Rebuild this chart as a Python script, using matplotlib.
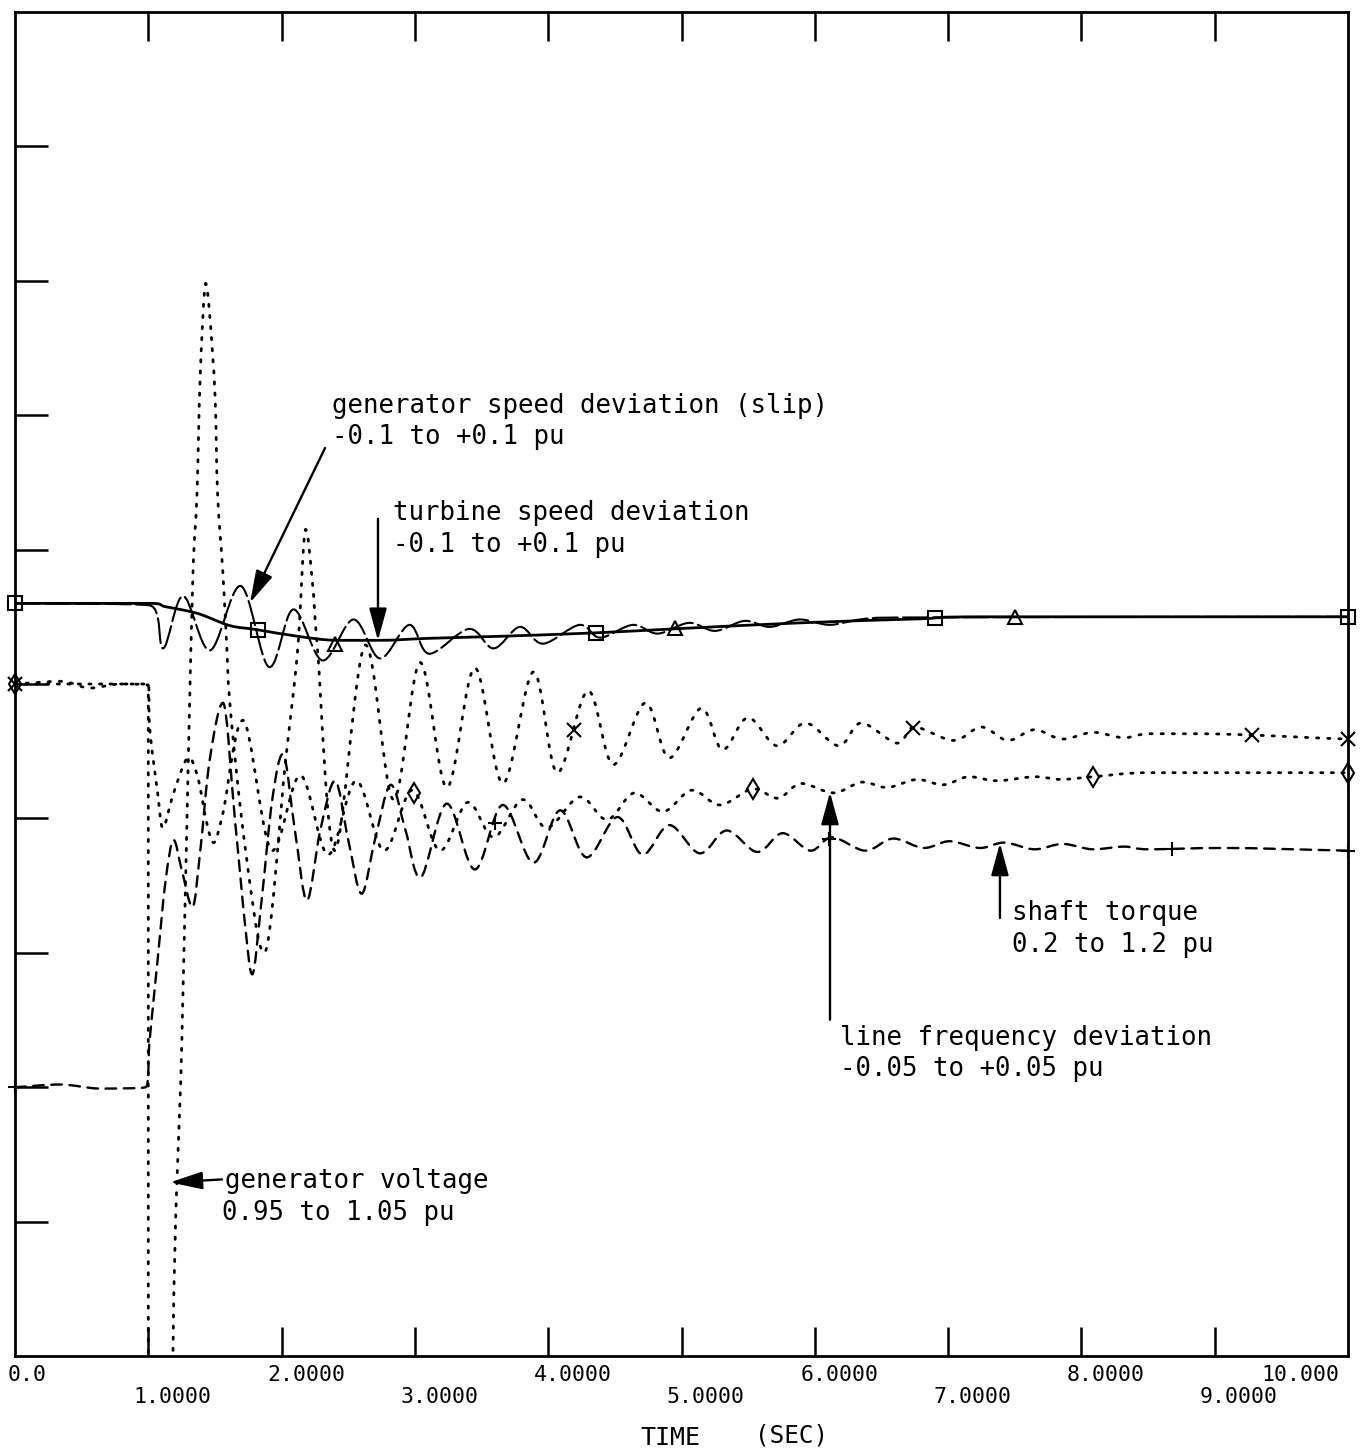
import numpy as np
import matplotlib.pyplot as plt
from matplotlib.path import Path
from matplotlib.patches import PathPatch

# ---- data (time in s, values in pu) ----
# turbine speed deviation, solid line, square markers (-0.1 .. +0.1 pu)
turb_t = [0, 1.00, 1.13, 1.37, 1.61, 1.81, 2.12, 2.42, 2.74, 3.11, 3.64, 4.34, 4.94, 5.89, 6.79, 7.33, 10.0]
turb_w = [0.0120, 0.0120, 0.0115, 0.0105, 0.0087, 0.0081, 0.0071, 0.0065, 0.0065, 0.0068, 0.0071,
          0.0076, 0.0082, 0.0091, 0.0097, 0.0100, 0.0100]
turb_mk = [0, 1.82, 4.36, 6.90, 10.0]

# generator speed deviation (slip), long dashes, triangle markers (-0.1 .. +0.1 pu)
gen_t = [0, 1.01, 1.11, 1.26, 1.46, 1.69, 1.91, 2.09, 2.31, 2.54, 2.74, 2.96, 3.11, 3.41, 3.59, 3.79,
         3.96, 4.24, 4.39, 4.64, 4.82, 5.06, 5.25, 5.48, 5.66, 5.89, 6.11, 6.34, 6.64, 10.0]
gen_w = [0.0120, 0.0117, 0.0053, 0.0131, 0.0050, 0.0146, 0.0025, 0.0111, 0.0035, 0.0096, 0.0038,
         0.0088, 0.0045, 0.0082, 0.0053, 0.0085, 0.0060, 0.0088, 0.0069, 0.0088, 0.0075, 0.0091,
         0.0079, 0.0094, 0.0085, 0.0096, 0.0088, 0.0096, 0.0099, 0.0100]
gen_mk = [2.40, 4.95, 7.50]

# generator voltage, dotted, x markers (0.95 .. 1.05 pu); dips off scale during the fault
volt_t = [0, 0.34, 0.56, 0.79, 1.00, 1.00, 1.17, 1.185, 1.25, 1.30, 1.335, 1.365, 1.39, 1.43, 1.46,
          1.50, 1.52, 1.56, 1.59, 1.61, 1.73, 1.87, 2.03, 2.12, 2.18, 2.23, 2.27, 2.40, 2.63, 2.84,
          3.04, 3.24, 3.45, 3.66, 3.89, 4.07, 4.30, 4.49, 4.73, 4.91, 5.15, 5.31, 5.50, 5.72, 5.93,
          6.18, 6.35, 6.62, 6.75, 7.04, 7.25, 7.45, 7.65, 7.86, 8.09, 8.32, 8.51, 8.87, 9.29, 9.74, 10.0]
volt_v = [1.0000, 1.0002, 0.9997, 1.0000, 0.9999, 0.90, 0.90, 0.9500, 0.9728, 0.9943, 1.0082, 1.0141,
          1.0231, 1.0298, 1.0275, 1.0216, 1.0141, 1.0082, 1.0025, 0.9988, 0.9876, 0.9800, 0.9943,
          1.0025, 1.0115, 1.0077, 1.0025, 0.9876, 1.0029, 0.9914, 1.0016, 0.9923, 1.0012, 0.9926,
          1.0009, 0.9934, 0.9995, 0.9940, 0.9986, 0.9945, 0.9982, 0.9951, 0.9975, 0.9954, 0.9971,
          0.9954, 0.9971, 0.9956, 0.9968, 0.9958, 0.9968, 0.9958, 0.9966, 0.9959, 0.9964, 0.9960,
          0.9963, 0.9963, 0.9962, 0.9960, 0.9959]
volt_mk = [0, 4.19, 6.74, 9.28, 10.0]

# line frequency deviation, dotted, diamond markers (-0.05 .. +0.05 pu)
freq_t = [0, 1.00, 1.01, 1.07, 1.11, 1.19, 1.30, 1.37, 1.44, 1.49, 1.56, 1.71, 1.93, 2.14, 2.35, 2.56,
          2.77, 2.98, 3.19, 3.40, 3.59, 3.81, 3.99, 4.24, 4.44, 4.65, 4.86, 5.08, 5.29, 5.54, 5.72,
          5.90, 6.14, 6.36, 6.54, 6.77, 6.96, 7.16, 7.37, 7.65, 7.85, 8.09, 8.51, 9.29, 10.0]
freq_v = [0.0, 0.0, -0.0032, -0.0081, -0.0107, -0.0081, -0.0055, -0.0069, -0.0104, -0.0118, -0.0096,
          -0.0027, -0.0124, -0.0068, -0.0127, -0.0072, -0.0124, -0.0079, -0.0124, -0.0088, -0.0114,
          -0.0086, -0.0107, -0.0084, -0.0101, -0.0081, -0.0095, -0.0079, -0.0090, -0.0078, -0.0085,
          -0.0074, -0.0081, -0.0073, -0.0077, -0.0071, -0.0075, -0.0069, -0.0072, -0.0069, -0.0071,
          -0.0069, -0.0066, -0.0066, -0.0066]
freq_mk = [0, 2.99, 5.54, 8.09, 10.0]

# shaft torque, dashed, plus markers (0.2 .. 1.2 pu)
torq_t = [0, 0.34, 0.64, 0.98, 1.01, 1.07, 1.13, 1.19, 1.25, 1.33, 1.39, 1.46, 1.56, 1.65, 1.73, 1.78,
          1.85, 1.93, 2.01, 2.10, 2.19, 2.29, 2.40, 2.50, 2.60, 2.70, 2.82, 2.93, 3.04, 3.24, 3.45,
          3.66, 3.89, 4.09, 4.29, 4.52, 4.71, 4.91, 5.14, 5.34, 5.57, 5.76, 5.97, 6.13, 6.38, 6.59,
          6.82, 7.01, 7.24, 7.42, 7.65, 7.86, 8.09, 8.32, 8.51, 9.07, 10.0]
torq_v = [0.400, 0.402, 0.399, 0.400, 0.435, 0.495, 0.554, 0.584, 0.562, 0.534, 0.576, 0.643, 0.686,
          0.599, 0.517, 0.484, 0.539, 0.614, 0.648, 0.591, 0.539, 0.591, 0.628, 0.584, 0.544, 0.584,
          0.625, 0.591, 0.556, 0.611, 0.562, 0.610, 0.567, 0.606, 0.571, 0.601, 0.573, 0.595, 0.574,
          0.591, 0.575, 0.589, 0.576, 0.586, 0.576, 0.585, 0.578, 0.583, 0.578, 0.582, 0.577, 0.581,
          0.577, 0.579, 0.577, 0.578, 0.576]
torq_mk = [0, 3.60, 6.11, 8.68, 10.0]

x_ticks = [0, 1, 2, 3, 4, 5, 6, 7, 8, 9, 10]
x_labels = ['0.0', '1.0000', '2.0000', '3.0000', '4.0000', '5.0000',
            '6.0000', '7.0000', '8.0000', '9.0000', '10.000']


def to_div(v, lo, hi):
    # every trace has its own range mapped onto the 10 vertical divisions
    return (np.asarray(v, dtype=float) - lo) / (hi - lo) * 10


def smooth_path(xs, ys):
    # plotter-like smooth stroke through the read points (monotone Bezier, no overshoot)
    p = np.column_stack([xs, ys]).astype(float)
    n = len(p)
    m = np.zeros_like(p)
    m[0] = p[1] - p[0]
    m[-1] = p[-1] - p[-2]
    for i in range(1, n - 1):
        d0 = p[i] - p[i - 1]
        d1 = p[i + 1] - p[i]
        for k in range(2):
            if d0[k] * d1[k] > 0:
                v = (d0[k] + d1[k]) / 2
                lim = 3 * min(abs(d0[k]), abs(d1[k]))
                m[i, k] = np.sign(v) * min(abs(v), lim)
    verts = [p[0]]
    codes = [Path.MOVETO]
    for i in range(n - 1):
        verts += [p[i] + m[i] / 3, p[i + 1] - m[i + 1] / 3, p[i + 1]]
        codes += [Path.CURVE4] * 3
    return Path(verts, codes)


fig = plt.figure(figsize=(13.64, 14.56), dpi=100)
ax = fig.add_axes([15 / 1364, 100 / 1456, 1333 / 1364, 1344 / 1456])

mono = 'DejaVu Sans Mono'

traces = [
    (turb_t, to_div(turb_w, -0.1, 0.1), turb_mk, 's', '-', 2.0),
    (gen_t, to_div(gen_w, -0.1, 0.1), gen_mk, '^', (0, (12, 2.5)), 1.5),
    (volt_t, to_div(volt_v, 0.95, 1.05), volt_mk, 'x', (0, (0.8, 3.2)), 2.0),
    (freq_t, to_div(freq_v, -0.05, 0.05), freq_mk, 'd', (0, (0.8, 3.0)), 2.0),
    (torq_t, to_div(torq_v, 0.2, 1.2), torq_mk, '+', (0, (4.5, 3.2)), 1.7),
]
for t, y, mk_t, mk, ls, lw in traces:
    ax.add_patch(PathPatch(smooth_path(t, y), fill=False, edgecolor='black',
                           linestyle=ls, lw=lw, capstyle='round'))
    ax.plot(mk_t, np.interp(mk_t, t, y), ls='none', marker=mk, color='black',
            mfc='none', ms=10, mew=1.5, clip_on=False)

ax.set_xlim(0, 10)
ax.set_ylim(0, 10)

# frame and inward ticks, no numeric y labels
for s in ax.spines.values():
    s.set_linewidth(2.0)
ax.set_xticks(x_ticks[1:-1])
ax.set_yticks(range(1, 10))
ax.tick_params(axis='x', which='both', direction='in', top=True, bottom=True,
               length=21, width=1.8, labelbottom=False)
ax.tick_params(axis='y', direction='in', left=True, right=False, length=24, width=1.8,
               labelleft=False)

# staggered time labels
for i, (xt, lab) in enumerate(zip(x_ticks, x_labels)):
    dy = -13.5 if i % 2 == 0 else -29.5
    if i == 0:
        dx, ha = -5, 'left'
    elif i == len(x_ticks) - 1:
        dx, ha = -6, 'right'
    else:
        dx, ha = -10.5, 'left'
    ax.annotate(lab, xy=(xt, 0), xycoords=('data', 'axes fraction'), xytext=(dx, dy),
                textcoords='offset points', ha=ha, va='center', fontsize=15.5, family=mono)

fig.text(670 / 1364, 1 - 1438 / 1456, 'TIME', ha='center', va='center', fontsize=18, family=mono)
fig.text(792 / 1364, 1 - 1435 / 1456, '(SEC)', ha='center', va='center', fontsize=17.5, family=mono)


def px(x, y):
    return x / 1364, 1 - y / 1456


notes = [
    (332, 413, 'generator speed deviation (slip)'),
    (332, 444, '-0.1 to +0.1 pu'),
    (393, 520, 'turbine speed deviation'),
    (393, 552, '-0.1 to +0.1 pu'),
    (1012, 920, 'shaft torque'),
    (1012, 952, '0.2 to 1.2 pu'),
    (840, 1045, 'line frequency deviation'),
    (840, 1076, '-0.05 to +0.05 pu'),
    (225, 1188, 'generator voltage'),
    (222, 1220, '0.95 to 1.05 pu'),
]
for x, y, s in notes:
    fig.text(*px(x, y), s, ha='left', va='baseline', fontsize=18.5, family=mono)

arrows = [
    ((2.326, 6.756), (1.763, 5.605)),
    ((2.723, 6.229), (2.723, 5.323)),
    ((7.389, 3.259), (7.389, 3.816)),
    ((6.114, 2.502), (6.114, 4.195)),
    ((1.553, 1.314), (1.163, 1.292)),
]
for tail, tip in arrows:
    ax.annotate('', xy=tip, xytext=tail,
                arrowprops=dict(arrowstyle='-|>,head_length=1.1,head_width=0.3',
                                color='black', lw=1.7, mutation_scale=18,
                                shrinkA=0, shrinkB=0))

fig.savefig('out.png', dpi=100)
